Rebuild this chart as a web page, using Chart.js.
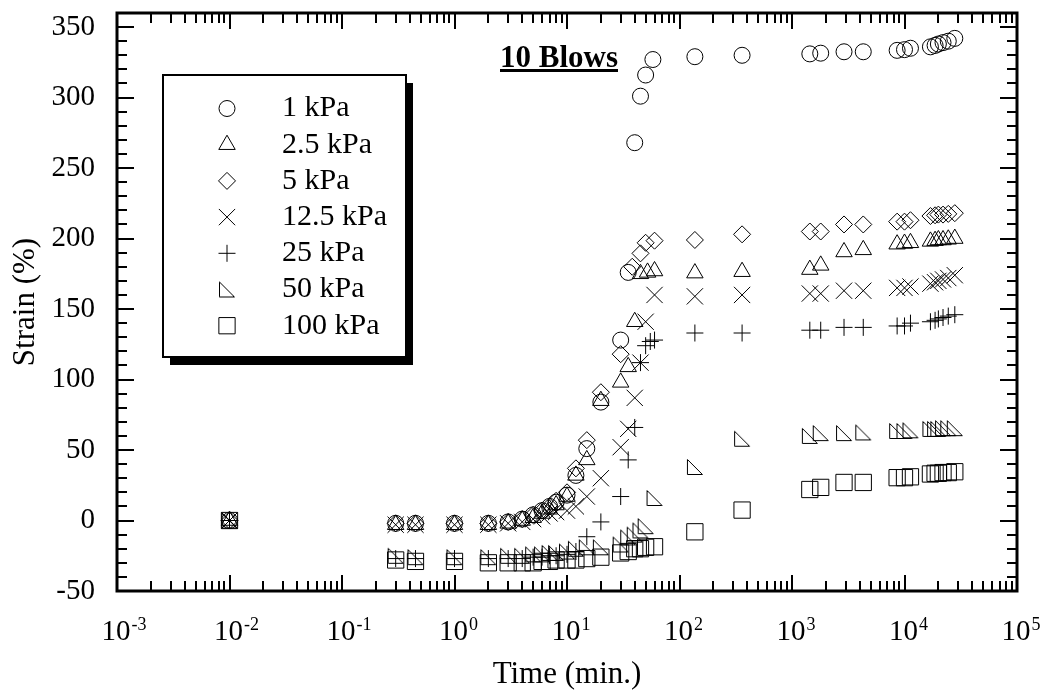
<!DOCTYPE html>
<html>
<head>
<meta charset="utf-8">
<title>Strain vs Time - 10 Blows</title>
<script src="https://cdn.jsdelivr.net/npm/chart.js@4.4.1/dist/chart.umd.min.js"></script>
<style>
    html, body { margin: 0; padding: 0; background: #fff; }
    #wrap { width: 1045px; height: 693px; }
</style>
</head>
<body>
<div id="wrap"><canvas id="strain_chart" width="1045" height="693"></canvas></div>
<script>
// series labels and tick values
const seriesLabels = ['1 kPa', '2.5 kPa', '5 kPa', '12.5 kPa', '25 kPa', '50 kPa', '100 kPa'];
const xTickExponents = [-3, -2, -1, 0, 1, 2, 3, 4, 5];
const yTickValues = [-50, 0, 50, 100, 150, 200, 250, 300, 350];

// time (min.) and strain (%), one pair per series
const time1 = [0.01, 0.3, 0.45, 1, 2, 3, 4, 5, 6, 7, 8, 10, 12, 15, 20, 30, 35, 40, 45, 50, 58, 137, 360, 1440, 1800, 2900, 4300, 8600, 10000, 11300, 17000, 18700, 20000, 22000, 24500, 28000];
const strain1 = [0, -2, -2, -2, -2, -1, 1, 4, 7, 10, 13, 18, 32, 51, 84, 128, 176, 268, 301, 316, 327, 329, 330, 331, 331.5, 332.5, 332.5, 333.5, 334, 335, 336, 337, 338, 339, 340, 342];

const time2 = [0.01, 0.3, 0.45, 1, 2, 3, 4, 5, 6, 7, 8, 10, 12, 15, 20, 30, 35, 40, 45, 52, 60, 137, 360, 1440, 1800, 2900, 4300, 8600, 10000, 11300, 17000, 18700, 20000, 22000, 24500, 28000];
const strain2 = [0, -3, -3, -3, -3, -2, 0, 2, 5, 8, 11, 17, 32, 43, 85, 98, 109, 141, 175, 176, 177, 175.5, 176.5, 178, 181, 190.5, 192, 196, 196.5, 197, 198, 198.5, 199, 199, 199.5, 200];

const time3 = [0.01, 0.3, 0.45, 1, 2, 3, 4, 5, 6, 7, 8, 10, 12, 15, 20, 30, 38, 45, 50, 60, 137, 360, 1440, 1800, 2900, 4300, 8600, 10000, 11300, 17000, 18700, 20000, 22000, 24500, 28000];
const strain3 = [0, -2, -2, -2, -2, -1, 1, 4, 7, 10, 14, 20, 37, 57, 91, 118, 180, 189.5, 197, 198.5, 199, 203, 205, 205, 210, 210, 212, 212, 213, 216, 216.5, 217, 217, 217.5, 218];

const time4 = [0.01, 0.3, 0.45, 1, 2, 3, 4, 5, 6, 7, 8, 10, 12, 15, 20, 30, 35, 40, 45, 50, 60, 137, 360, 1440, 1800, 2900, 4300, 8600, 10000, 11300, 17000, 18700, 20000, 22000, 24500, 28000];
const strain4 = [0, -3, -3, -3, -3, -2, -1, 1, 3, 5, 6, 7, 10, 17, 30, 52, 65, 87, 112, 141, 160, 159, 160, 161, 161, 163, 163, 165, 165, 166, 168, 169, 170, 171, 172, 174];

const time5 = [0.01, 0.3, 0.45, 1, 2, 3, 4, 5, 6, 7, 8, 10, 12, 15, 20, 30, 35, 40, 45, 50, 55, 60, 137, 360, 1440, 1800, 2900, 4300, 8600, 10000, 11300, 17000, 18700, 20000, 22000, 24500, 28000];
const strain5 = [0, -27, -27, -27, -27, -27, -27, -26, -26, -25, -25, -24, -22, -11.5, -1, 17, 43, 66, 112, 124, 127, 128, 133, 133, 135, 135, 137, 137, 138, 138, 140, 141, 142, 143, 144, 145, 146];

const time6 = [0.01, 0.3, 0.45, 1, 2, 3, 4, 5, 6, 7, 8, 10, 12, 15, 20, 30, 35, 40, 45, 50, 60, 137, 360, 1440, 1800, 2900, 4300, 8600, 10000, 11300, 17000, 18700, 20000, 22000, 24500, 28000];
const strain6 = [0, -25, -26, -26, -26, -25, -25, -24, -24, -23, -23, -22, -20, -19, -19, -17, -12, -10, -7, -4, 16, 38, 58, 60, 62, 62, 62.5, 63.5, 63.5, 64, 65, 65, 65, 65.5, 65.5, 65.5];

const time7 = [0.01, 0.3, 0.45, 1, 2, 3, 4, 5, 6, 7, 8, 10, 12, 15, 20, 30, 35, 40, 45, 50, 60, 137, 360, 1440, 1800, 2900, 4300, 8600, 10000, 11300, 17000, 18700, 20000, 22000, 24500, 28000];
const strain7 = [0, -28, -29, -29, -30, -30, -30, -30, -29, -29, -28, -28, -28, -27, -26, -23, -22, -20, -20, -19, -18.6, -8, 7.4, 22, 23.5, 27, 27, 30.4, 30.4, 31, 33, 33.5, 33.5, 34, 34, 34.6];

const toPoints = (t, s) => t.map((x, i) => ({x: x, y: s[i]}));

// open right triangle marker for 50 kPa
function rightTriangle(size) {
    const c = document.createElement('canvas');
    c.width = size;
    c.height = size;
    const g = c.getContext('2d');
    g.strokeStyle = '#000';
    g.lineWidth = 1;
    g.beginPath();
    g.moveTo(1.5, 1.5);
    g.lineTo(1.5, size - 1.5);
    g.lineTo(size - 1.5, size - 1.5);
    g.closePath();
    g.stroke();
    return c;
}

const styles = ['circle', 'triangle', 'rectRot', 'crossRot', 'cross', rightTriangle(18), 'rect'];
const radii = [8, 9.5, 8.5, 11.5, 8.5, 9, 11.5];
const series = [
    toPoints(time1, strain1),
    toPoints(time2, strain2),
    toPoints(time3, strain3),
    toPoints(time4, strain4),
    toPoints(time5, strain5),
    toPoints(time6, strain6),
    toPoints(time7, strain7)
];

// frame, inward ticks and the 10^n labels
const frameTicks = {
    id: 'frameTicks',
    afterDraw(chart) {
        const {ctx, chartArea: a, scales: {x, y}} = chart;
        ctx.save();
        ctx.strokeStyle = '#000';
        ctx.lineWidth = 2;
        ctx.beginPath();
        for (let e = -3; e < 5; e++) {
            for (let m = 1; m <= 9; m++) {
                const px = Math.round(x.getPixelForValue(m * Math.pow(10, e)));
                const len = m === 1 ? 16 : 10;
                ctx.moveTo(px, a.top);
                ctx.lineTo(px, a.top + len);
                ctx.moveTo(px, a.bottom);
                ctx.lineTo(px, a.bottom - len);
            }
        }
        for (let v = -50; v <= 350; v += 10) {
            const py = Math.round(y.getPixelForValue(v));
            const len = v % 50 === 0 ? 17 : 10;
            ctx.moveTo(a.left, py);
            ctx.lineTo(a.left + len, py);
            ctx.moveTo(a.right, py);
            ctx.lineTo(a.right - len, py);
        }
        ctx.stroke();
        ctx.lineWidth = 3;
        ctx.strokeRect(a.left, a.top, a.right - a.left, a.bottom - a.top);

        ctx.fillStyle = '#000';
        ctx.textBaseline = 'alphabetic';
        xTickExponents.forEach(e => {
            const px = x.getPixelForValue(Math.pow(10, e));
            ctx.font = '29px "Liberation Serif"';
            const w = ctx.measureText('10').width;
            ctx.textAlign = 'center';
            ctx.fillText('10', px - 1, 640);
            ctx.font = '18px "Liberation Serif"';
            ctx.textAlign = 'left';
            ctx.fillText(String(e), px - 1 + w / 2 + 1, 630);
        });
        ctx.restore();
    }
};

// boxed legend with drop shadow, and the "10 Blows" note
const legendBox = {
    id: 'legendBox',
    afterDraw(chart) {
        const ctx = chart.ctx;
        const L = 163, T = 75, R = 406, B = 357;
        ctx.save();
        ctx.fillStyle = '#000';
        ctx.fillRect(L + 7, T + 8, R - L, B - T);
        ctx.fillStyle = '#fff';
        ctx.fillRect(L, T, R - L, B - T);
        ctx.strokeStyle = '#000';
        ctx.lineWidth = 2;
        ctx.strokeRect(L, T, R - L, B - T);

        ctx.lineWidth = 1;
        ctx.font = '30px "Liberation Serif"';
        ctx.textBaseline = 'middle';
        ctx.textAlign = 'left';
        chart.data.datasets.forEach((ds, i) => {
            const cy = 108.5 + i * 36.2;
            ctx.fillStyle = 'rgba(0,0,0,0)';
            ctx.strokeStyle = '#000';
            Chart.helpers.drawPoint(ctx, {
                pointStyle: ds.pointStyle,
                radius: ds.pointRadius,
                borderWidth: 1,
                rotation: 0
            }, 227, cy);
            ctx.fillStyle = '#000';
            ctx.fillText(ds.label, 282, cy);
        });

        ctx.font = 'bold 31px "Liberation Serif"';
        ctx.textBaseline = 'alphabetic';
        ctx.fillText('10 Blows', 500, 67);
        const w = ctx.measureText('10 Blows').width;
        ctx.fillRect(500, 69, w, 3);
        ctx.restore();
    }
};

Chart.defaults.font.family = '"Liberation Serif", "Times New Roman", serif';
Chart.defaults.color = '#000';

const ctx = document.getElementById('strain_chart').getContext('2d');
const strainChart = new Chart(ctx, {
    type: 'scatter',
    data: {
        datasets: series.map((pts, i) => ({
            label: seriesLabels[i],
            data: pts,
            pointStyle: styles[i],
            pointRadius: radii[i],
            pointBorderWidth: 1,
            borderColor: '#000',
            backgroundColor: 'rgba(0,0,0,0)',
            showLine: false
        }))
    },
    options: {
        responsive: false,
        animation: false,
        devicePixelRatio: 1,
        layout: {
            padding: {top: 13, right: 28, left: 0, bottom: 0}
        },
        scales: {
            x: {
                type: 'logarithmic',
                min: 1e-3,
                max: 1e5,
                grid: {display: false, drawTicks: false},
                border: {display: false},
                ticks: {display: false},
                afterBuildTicks: s => {
                    s.ticks = xTickExponents.map(e => ({value: Math.pow(10, e)}));
                },
                afterFit: s => {
                    s.height = 102;
                    s.paddingLeft = 0;
                    s.paddingRight = 0;
                },
                title: {
                    display: true,
                    text: 'Time (min.)',
                    font: {size: 31},
                    padding: {top: 0, bottom: 0}
                }
            },
            y: {
                min: -50,
                max: 360,
                grid: {display: false, drawTicks: false},
                border: {display: false},
                ticks: {
                    font: {size: 29},
                    padding: 22,
                    color: '#000'
                },
                afterBuildTicks: s => {
                    s.ticks = yTickValues.map(v => ({value: v}));
                },
                afterFit: s => {
                    s.width = 117;
                    s.paddingTop = 0;
                    s.paddingBottom = 0;
                },
                title: {
                    display: true,
                    text: 'Strain (%)',
                    font: {size: 31},
                    padding: {top: 7, bottom: 0}
                }
            }
        },
        plugins: {
            legend: {display: false},
            tooltip: {enabled: false}
        }
    },
    plugins: [frameTicks, legendBox]
});
</script>
</body>
</html>
